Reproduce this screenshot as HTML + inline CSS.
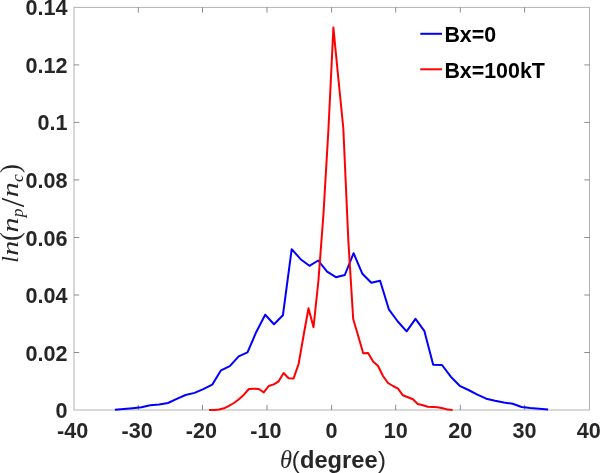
<!DOCTYPE html>
<html><head><meta charset="utf-8"><title>plot</title>
<style>
html,body{margin:0;padding:0;background:#fff;}
svg{display:block}
.t{font-family:"Liberation Sans",sans-serif;font-weight:bold;fill:#262626;font-size:21.6px}
.lg{font-family:"Liberation Sans",sans-serif;font-weight:bold;fill:#000;font-size:21.4px}
.p{font-family:"Liberation Sans",sans-serif;fill:#262626}
.ps{font-family:"Liberation Serif",serif;fill:#262626}
.m{font-family:"Liberation Serif",serif;font-style:italic;fill:#262626}
</style></head><body>
<svg width="600" height="473" viewBox="0 0 600 473">
<rect width="600" height="473" fill="#fff"/>
<rect x="74.0" y="7.4" width="515.5" height="402.6" fill="none" stroke="#b2b2b2" stroke-width="1"/>

<line x1="138.3" y1="410.0" x2="138.3" y2="404.8" stroke="#6e6e6e" stroke-width="0.8"/>
<line x1="138.3" y1="7.4" x2="138.3" y2="12.6" stroke="#6e6e6e" stroke-width="0.8"/>
<line x1="202.5" y1="410.0" x2="202.5" y2="404.8" stroke="#6e6e6e" stroke-width="0.8"/>
<line x1="202.5" y1="7.4" x2="202.5" y2="12.6" stroke="#6e6e6e" stroke-width="0.8"/>
<line x1="267.0" y1="410.0" x2="267.0" y2="404.8" stroke="#6e6e6e" stroke-width="0.8"/>
<line x1="267.0" y1="7.4" x2="267.0" y2="12.6" stroke="#6e6e6e" stroke-width="0.8"/>
<line x1="331.6" y1="410.0" x2="331.6" y2="404.8" stroke="#6e6e6e" stroke-width="0.8"/>
<line x1="331.6" y1="7.4" x2="331.6" y2="12.6" stroke="#6e6e6e" stroke-width="0.8"/>
<line x1="395.7" y1="410.0" x2="395.7" y2="404.8" stroke="#6e6e6e" stroke-width="0.8"/>
<line x1="395.7" y1="7.4" x2="395.7" y2="12.6" stroke="#6e6e6e" stroke-width="0.8"/>
<line x1="460.3" y1="410.0" x2="460.3" y2="404.8" stroke="#6e6e6e" stroke-width="0.8"/>
<line x1="460.3" y1="7.4" x2="460.3" y2="12.6" stroke="#6e6e6e" stroke-width="0.8"/>
<line x1="524.6" y1="410.0" x2="524.6" y2="404.8" stroke="#6e6e6e" stroke-width="0.8"/>
<line x1="524.6" y1="7.4" x2="524.6" y2="12.6" stroke="#6e6e6e" stroke-width="0.8"/>
<line x1="74.0" y1="352.5" x2="79.2" y2="352.5" stroke="#6e6e6e" stroke-width="0.8"/>
<line x1="589.5" y1="352.5" x2="584.3" y2="352.5" stroke="#6e6e6e" stroke-width="0.8"/>
<line x1="74.0" y1="295.0" x2="79.2" y2="295.0" stroke="#6e6e6e" stroke-width="0.8"/>
<line x1="589.5" y1="295.0" x2="584.3" y2="295.0" stroke="#6e6e6e" stroke-width="0.8"/>
<line x1="74.0" y1="237.5" x2="79.2" y2="237.5" stroke="#6e6e6e" stroke-width="0.8"/>
<line x1="589.5" y1="237.5" x2="584.3" y2="237.5" stroke="#6e6e6e" stroke-width="0.8"/>
<line x1="74.0" y1="179.9" x2="79.2" y2="179.9" stroke="#6e6e6e" stroke-width="0.8"/>
<line x1="589.5" y1="179.9" x2="584.3" y2="179.9" stroke="#6e6e6e" stroke-width="0.8"/>
<line x1="74.0" y1="122.4" x2="79.2" y2="122.4" stroke="#6e6e6e" stroke-width="0.8"/>
<line x1="589.5" y1="122.4" x2="584.3" y2="122.4" stroke="#6e6e6e" stroke-width="0.8"/>
<line x1="74.0" y1="64.9" x2="79.2" y2="64.9" stroke="#6e6e6e" stroke-width="0.8"/>
<line x1="589.5" y1="64.9" x2="584.3" y2="64.9" stroke="#6e6e6e" stroke-width="0.8"/>
<text class="t" x="72.6" y="437.8" text-anchor="middle">-40</text>
<text class="t" x="137.1" y="437.8" text-anchor="middle">-30</text>
<text class="t" x="201.3" y="437.8" text-anchor="middle">-20</text>
<text class="t" x="265.8" y="437.8" text-anchor="middle">-10</text>
<text class="t" x="331.6" y="437.8" text-anchor="middle">0</text>
<text class="t" x="395.7" y="437.8" text-anchor="middle">10</text>
<text class="t" x="460.3" y="437.8" text-anchor="middle">20</text>
<text class="t" x="524.6" y="437.8" text-anchor="middle">30</text>
<text class="t" x="588.8" y="437.8" text-anchor="middle">40</text>
<text class="t" x="67.6" y="418.0" text-anchor="end">0</text>
<text class="t" x="67.6" y="360.9" text-anchor="end">0.02</text>
<text class="t" x="67.6" y="303.1" text-anchor="end">0.04</text>
<text class="t" x="67.6" y="245.6" text-anchor="end">0.06</text>
<text class="t" x="67.6" y="187.8" text-anchor="end">0.08</text>
<text class="t" x="67.6" y="130.3" text-anchor="end">0.1</text>
<text class="t" x="67.6" y="72.5" text-anchor="end">0.12</text>
<text class="t" x="67.6" y="15.4" text-anchor="end">0.14</text>
<polyline points="114.9,409.7 123.8,409.0 132.6,408.2 141.4,407.3 150.3,405.3 159.1,404.5 168.0,403.0 176.8,398.9 185.6,395.0 194.5,392.9 203.3,389.2 212.2,384.7 221.0,370.3 229.8,366.2 238.7,356.3 247.5,352.3 256.4,331.7 265.2,314.7 274.0,324.2 282.9,315.3 291.7,249.2 300.6,259.2 309.4,265.8 318.2,260.5 327.1,271.7 335.9,277.2 344.8,275.0 353.6,253.2 362.4,273.8 371.3,282.8 380.1,280.8 389.0,309.7 397.8,321.5 406.6,331.3 415.5,318.8 424.3,330.8 433.2,364.8 442.0,365.0 450.8,376.7 459.7,385.8 468.5,390.0 477.4,394.7 486.2,398.7 495.0,400.8 503.9,402.5 512.7,403.8 521.6,407.0 530.4,408.0 539.2,408.8 548.1,409.5" fill="none" stroke="#0000ff" stroke-width="2" stroke-linejoin="round"/>
<polyline points="209.1,410.0 214.1,409.9 219.0,409.5 224.0,408.3 229.0,405.8 233.9,403.0 238.9,399.3 243.9,394.7 248.9,389.0 253.8,388.7 258.8,389.0 263.8,392.4 268.7,386.0 273.7,384.4 278.7,381.3 283.6,373.0 288.6,378.3 293.6,378.4 298.6,364.0 303.5,336.0 308.5,308.3 313.5,327.3 318.4,281.0 323.4,215.0 328.4,130.0 333.4,27.6 338.3,78.0 343.3,128.0 348.3,240.0 353.2,319.0 358.2,336.0 363.2,353.3 368.1,353.0 373.1,361.5 378.1,366.0 383.0,376.0 388.0,383.0 393.0,386.0 398.0,388.7 402.9,395.3 407.9,397.3 412.9,399.3 417.8,404.0 422.8,405.3 427.8,406.7 432.8,407.0 437.7,407.3 442.7,408.3 447.7,409.6 452.6,409.9" fill="none" stroke="#ff0000" stroke-width="2" stroke-linejoin="round"/>
<line x1="420.3" y1="33.8" x2="442" y2="33.8" stroke="#0000ff" stroke-width="2"/>
<line x1="420.3" y1="69.3" x2="442" y2="69.3" stroke="#ff0000" stroke-width="2"/>
<text class="lg" x="444.4" y="41.7">Bx=0</text>
<text class="lg" x="444.4" y="77.8">Bx=100kT</text>
<text y="467.6"><tspan class="m" font-size="24.5" x="280.0">θ</tspan><tspan class="p" font-size="23.8" x="291.8">(</tspan><tspan class="t" style="font-size:23.65px" x="300.0">degree</tspan><tspan class="p" font-size="23.8" x="378.1">)</tspan></text>
<g transform="translate(17.3,263.5) rotate(-90)">
<text><tspan class="m" font-size="23.5" x="0.7" y="0.7">l</tspan><tspan class="m" font-size="23.5" x="7.8" y="0.7" textLength="15" lengthAdjust="spacingAndGlyphs">n</tspan><tspan class="ps" font-size="27" x="22.5" y="1.7">(</tspan><tspan class="m" font-size="23.5" x="31.0" y="0.7" textLength="15" lengthAdjust="spacingAndGlyphs">n</tspan><tspan class="m" font-size="17.5" x="46.2" y="5.4">p</tspan><tspan class="ps" font-size="34" x="56.3" y="6.3">/</tspan><tspan class="m" font-size="23.5" x="66.3" y="0.7" textLength="15" lengthAdjust="spacingAndGlyphs">n</tspan><tspan class="m" font-size="17.5" x="81.6" y="5.4">c</tspan><tspan class="ps" font-size="27" x="90.5" y="1.7">)</tspan></text>
</g>
</svg></body></html>
